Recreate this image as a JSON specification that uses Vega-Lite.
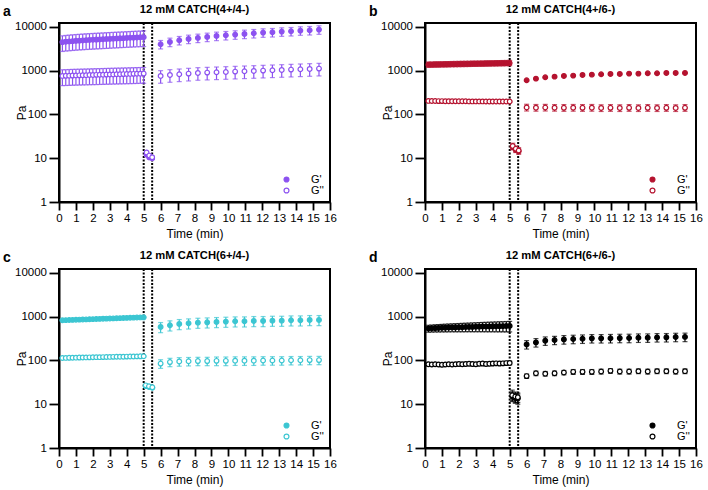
{
"$schema": "https://vega.github.io/schema/vega-lite/v6.json",
"padding": {"left": 2, "top": 2, "right": 5, "bottom": 5},
"background": "white",
"datasets": {
"a": [
{"s":"G'","t":0.2,"v":4500,"lo":2750,"hi":6250},{"s":"G'","t":0.4,"v":4600,"lo":2810,"hi":6390},{"s":"G'","t":0.6,"v":4680,"lo":2850,"hi":6510},{"s":"G'","t":0.8,"v":4750,"lo":2900,"hi":6600},{"s":"G'","t":1.0,"v":4820,"lo":2940,"hi":6700},{"s":"G'","t":1.2,"v":4880,"lo":2980,"hi":6780},{"s":"G'","t":1.4,"v":4940,"lo":3010,"hi":6870},{"s":"G'","t":1.6,"v":5000,"lo":3050,"hi":6950},{"s":"G'","t":1.8,"v":5050,"lo":3080,"hi":7020},{"s":"G'","t":2.0,"v":5100,"lo":3110,"hi":7090},{"s":"G'","t":2.2,"v":5150,"lo":3140,"hi":7160},{"s":"G'","t":2.4,"v":5200,"lo":3170,"hi":7230},{"s":"G'","t":2.6,"v":5250,"lo":3200,"hi":7300},{"s":"G'","t":2.8,"v":5300,"lo":3230,"hi":7370},{"s":"G'","t":3.0,"v":5350,"lo":3260,"hi":7440},{"s":"G'","t":3.2,"v":5400,"lo":3290,"hi":7510},{"s":"G'","t":3.4,"v":5450,"lo":3320,"hi":7580},{"s":"G'","t":3.6,"v":5500,"lo":3360,"hi":7650},{"s":"G'","t":3.8,"v":5550,"lo":3390,"hi":7710},{"s":"G'","t":4.0,"v":5600,"lo":3420,"hi":7780},{"s":"G'","t":4.2,"v":5650,"lo":3450,"hi":7850},{"s":"G'","t":4.4,"v":5700,"lo":3480,"hi":7920},{"s":"G'","t":4.6,"v":5750,"lo":3510,"hi":7990},{"s":"G'","t":4.8,"v":5800,"lo":3540,"hi":8060},{"s":"G'","t":5.0,"v":5850,"lo":3570,"hi":8130},
{"s":"G''","t":0.2,"v":760,"lo":456,"hi":1049},{"s":"G''","t":0.4,"v":765,"lo":459,"hi":1056},{"s":"G''","t":0.6,"v":770,"lo":462,"hi":1063},{"s":"G''","t":0.8,"v":775,"lo":465,"hi":1070},{"s":"G''","t":1.0,"v":780,"lo":468,"hi":1076},{"s":"G''","t":1.2,"v":784,"lo":470,"hi":1082},{"s":"G''","t":1.4,"v":788,"lo":473,"hi":1087},{"s":"G''","t":1.6,"v":792,"lo":475,"hi":1093},{"s":"G''","t":1.8,"v":796,"lo":478,"hi":1098},{"s":"G''","t":2.0,"v":800,"lo":480,"hi":1104},{"s":"G''","t":2.2,"v":804,"lo":482,"hi":1110},{"s":"G''","t":2.4,"v":808,"lo":485,"hi":1115},{"s":"G''","t":2.6,"v":812,"lo":487,"hi":1121},{"s":"G''","t":2.8,"v":816,"lo":490,"hi":1126},{"s":"G''","t":3.0,"v":820,"lo":492,"hi":1132},{"s":"G''","t":3.2,"v":824,"lo":494,"hi":1137},{"s":"G''","t":3.4,"v":828,"lo":497,"hi":1143},{"s":"G''","t":3.6,"v":832,"lo":499,"hi":1148},{"s":"G''","t":3.8,"v":836,"lo":502,"hi":1154},{"s":"G''","t":4.0,"v":840,"lo":504,"hi":1159},{"s":"G''","t":4.2,"v":844,"lo":506,"hi":1165},{"s":"G''","t":4.4,"v":848,"lo":509,"hi":1170},{"s":"G''","t":4.6,"v":852,"lo":511,"hi":1176},{"s":"G''","t":4.8,"v":856,"lo":514,"hi":1181},{"s":"G''","t":5.0,"v":860,"lo":516,"hi":1187},
{"s":"G'","t":5.17,"v":12,"lo":11,"hi":13},{"s":"G'","t":5.33,"v":10.5,"lo":9.7,"hi":11.3},{"s":"G'","t":5.5,"v":10,"lo":9.3,"hi":10.7},
{"s":"G''","t":5.17,"v":13.5,"lo":12.5,"hi":14.5},{"s":"G''","t":5.33,"v":11.5,"lo":10.6,"hi":12.4},{"s":"G''","t":5.5,"v":10.5,"lo":9.6,"hi":11.4},
{"s":"G'","t":6.0,"v":4020,"lo":3140,"hi":4900},{"s":"G'","t":6.55,"v":4540,"lo":3540,"hi":5540},{"s":"G'","t":7.1,"v":4960,"lo":3870,"hi":6050},{"s":"G'","t":7.65,"v":5320,"lo":4150,"hi":6490},{"s":"G'","t":8.2,"v":5610,"lo":4380,"hi":6840},{"s":"G'","t":8.75,"v":5910,"lo":4610,"hi":7210},{"s":"G'","t":9.3,"v":6230,"lo":4860,"hi":7600},{"s":"G'","t":9.85,"v":6450,"lo":5030,"hi":7870},{"s":"G'","t":10.4,"v":6680,"lo":5210,"hi":8150},{"s":"G'","t":10.95,"v":6920,"lo":5400,"hi":8440},{"s":"G'","t":11.5,"v":7160,"lo":5580,"hi":8740},{"s":"G'","t":12.05,"v":7420,"lo":5790,"hi":9050},{"s":"G'","t":12.6,"v":7550,"lo":5890,"hi":9210},{"s":"G'","t":13.15,"v":7820,"lo":6100,"hi":9540},{"s":"G'","t":13.7,"v":7960,"lo":6210,"hi":9710},{"s":"G'","t":14.25,"v":8250,"lo":6440,"hi":10070},{"s":"G'","t":14.8,"v":8390,"lo":6540,"hi":10240},{"s":"G'","t":15.35,"v":8690,"lo":6780,"hi":10600},
{"s":"G''","t":6.0,"v":760,"lo":517,"hi":1003},{"s":"G''","t":6.55,"v":800,"lo":544,"hi":1056},{"s":"G''","t":7.1,"v":828,"lo":563,"hi":1093},{"s":"G''","t":7.65,"v":858,"lo":583,"hi":1133},{"s":"G''","t":8.2,"v":889,"lo":605,"hi":1173},{"s":"G''","t":8.75,"v":904,"lo":615,"hi":1193},{"s":"G''","t":9.3,"v":920,"lo":626,"hi":1214},{"s":"G''","t":9.85,"v":936,"lo":636,"hi":1236},{"s":"G''","t":10.4,"v":953,"lo":648,"hi":1258},{"s":"G''","t":10.95,"v":970,"lo":660,"hi":1280},{"s":"G''","t":11.5,"v":987,"lo":671,"hi":1303},{"s":"G''","t":12.05,"v":1005,"lo":683,"hi":1327},{"s":"G''","t":12.6,"v":1023,"lo":696,"hi":1350},{"s":"G''","t":13.15,"v":1041,"lo":708,"hi":1374},{"s":"G''","t":13.7,"v":1059,"lo":720,"hi":1398},{"s":"G''","t":14.25,"v":1078,"lo":733,"hi":1423},{"s":"G''","t":14.8,"v":1097,"lo":746,"hi":1448},{"s":"G''","t":15.35,"v":1116,"lo":759,"hi":1473}
],
"b": [
{"s":"G'","t":0.2,"v":1375,"lo":1196,"hi":1581},{"s":"G'","t":0.4,"v":1380,"lo":1201,"hi":1587},{"s":"G'","t":0.6,"v":1385,"lo":1205,"hi":1593},{"s":"G'","t":0.8,"v":1390,"lo":1209,"hi":1599},{"s":"G'","t":1.0,"v":1395,"lo":1214,"hi":1604},{"s":"G'","t":1.2,"v":1400,"lo":1218,"hi":1610},{"s":"G'","t":1.4,"v":1405,"lo":1222,"hi":1616},{"s":"G'","t":1.6,"v":1410,"lo":1227,"hi":1622},{"s":"G'","t":1.8,"v":1415,"lo":1231,"hi":1627},{"s":"G'","t":2.0,"v":1420,"lo":1235,"hi":1633},{"s":"G'","t":2.2,"v":1425,"lo":1240,"hi":1639},{"s":"G'","t":2.4,"v":1430,"lo":1244,"hi":1645},{"s":"G'","t":2.6,"v":1435,"lo":1248,"hi":1650},{"s":"G'","t":2.8,"v":1440,"lo":1253,"hi":1656},{"s":"G'","t":3.0,"v":1445,"lo":1257,"hi":1662},{"s":"G'","t":3.2,"v":1450,"lo":1262,"hi":1668},{"s":"G'","t":3.4,"v":1455,"lo":1266,"hi":1673},{"s":"G'","t":3.6,"v":1460,"lo":1270,"hi":1679},{"s":"G'","t":3.8,"v":1465,"lo":1275,"hi":1685},{"s":"G'","t":4.0,"v":1470,"lo":1279,"hi":1691},{"s":"G'","t":4.2,"v":1475,"lo":1283,"hi":1696},{"s":"G'","t":4.4,"v":1480,"lo":1288,"hi":1702},{"s":"G'","t":4.6,"v":1485,"lo":1292,"hi":1708},{"s":"G'","t":4.8,"v":1490,"lo":1296,"hi":1714},{"s":"G'","t":5.0,"v":1495,"lo":1301,"hi":1719},
{"s":"G''","t":0.2,"v":204,"lo":198,"hi":210},{"s":"G''","t":0.4,"v":203,"lo":197,"hi":209},{"s":"G''","t":0.6,"v":203,"lo":197,"hi":209},{"s":"G''","t":0.8,"v":202,"lo":196,"hi":208},{"s":"G''","t":1.0,"v":202,"lo":196,"hi":208},{"s":"G''","t":1.2,"v":201,"lo":195,"hi":207},{"s":"G''","t":1.4,"v":201,"lo":195,"hi":207},{"s":"G''","t":1.6,"v":201,"lo":195,"hi":207},{"s":"G''","t":1.8,"v":200,"lo":194,"hi":206},{"s":"G''","t":2.0,"v":200,"lo":194,"hi":206},{"s":"G''","t":2.2,"v":200,"lo":194,"hi":206},{"s":"G''","t":2.4,"v":200,"lo":194,"hi":206},{"s":"G''","t":2.6,"v":199,"lo":193,"hi":205},{"s":"G''","t":2.8,"v":199,"lo":193,"hi":205},{"s":"G''","t":3.0,"v":199,"lo":193,"hi":205},{"s":"G''","t":3.2,"v":199,"lo":193,"hi":205},{"s":"G''","t":3.4,"v":199,"lo":193,"hi":205},{"s":"G''","t":3.6,"v":198,"lo":192,"hi":204},{"s":"G''","t":3.8,"v":198,"lo":192,"hi":204},{"s":"G''","t":4.0,"v":198,"lo":192,"hi":204},{"s":"G''","t":4.2,"v":198,"lo":192,"hi":204},{"s":"G''","t":4.4,"v":198,"lo":192,"hi":204},{"s":"G''","t":4.6,"v":198,"lo":192,"hi":204},{"s":"G''","t":4.8,"v":198,"lo":192,"hi":204},{"s":"G''","t":5.0,"v":198,"lo":192,"hi":204},
{"s":"G'","t":5.18,"v":18,"lo":15.5,"hi":20.5},{"s":"G'","t":5.36,"v":15.5,"lo":13.5,"hi":17.5},{"s":"G'","t":5.53,"v":14.5,"lo":12.5,"hi":16.5},
{"s":"G''","t":5.18,"v":19,"lo":16,"hi":22},{"s":"G''","t":5.36,"v":16.5,"lo":14,"hi":19},{"s":"G''","t":5.53,"v":15,"lo":12.5,"hi":17.5},
{"s":"G'","t":6.0,"v":604,"lo":586,"hi":622},{"s":"G'","t":6.55,"v":659,"lo":639,"hi":679},{"s":"G'","t":7.1,"v":707,"lo":686,"hi":728},{"s":"G'","t":7.65,"v":732,"lo":710,"hi":754},{"s":"G'","t":8.2,"v":759,"lo":736,"hi":782},{"s":"G'","t":8.75,"v":772,"lo":749,"hi":795},{"s":"G'","t":9.3,"v":800,"lo":776,"hi":824},{"s":"G'","t":9.85,"v":813,"lo":789,"hi":837},{"s":"G'","t":10.4,"v":828,"lo":803,"hi":853},{"s":"G'","t":10.95,"v":843,"lo":818,"hi":868},{"s":"G'","t":11.5,"v":843,"lo":818,"hi":868},{"s":"G'","t":12.05,"v":858,"lo":832,"hi":884},{"s":"G'","t":12.6,"v":858,"lo":832,"hi":884},{"s":"G'","t":13.15,"v":873,"lo":847,"hi":899},{"s":"G'","t":13.7,"v":873,"lo":847,"hi":899},{"s":"G'","t":14.25,"v":889,"lo":862,"hi":916},{"s":"G'","t":14.8,"v":889,"lo":862,"hi":916},{"s":"G'","t":15.35,"v":889,"lo":862,"hi":916},
{"s":"G''","t":6.0,"v":145,"lo":120,"hi":171},{"s":"G''","t":6.55,"v":143,"lo":119,"hi":169},{"s":"G''","t":7.1,"v":144,"lo":120,"hi":170},{"s":"G''","t":7.65,"v":143,"lo":119,"hi":169},{"s":"G''","t":8.2,"v":142,"lo":118,"hi":168},{"s":"G''","t":8.75,"v":143,"lo":119,"hi":169},{"s":"G''","t":9.3,"v":142,"lo":118,"hi":168},{"s":"G''","t":9.85,"v":143,"lo":119,"hi":169},{"s":"G''","t":10.4,"v":141,"lo":117,"hi":166},{"s":"G''","t":10.95,"v":142,"lo":118,"hi":168},{"s":"G''","t":11.5,"v":141,"lo":117,"hi":166},{"s":"G''","t":12.05,"v":142,"lo":118,"hi":168},{"s":"G''","t":12.6,"v":141,"lo":117,"hi":166},{"s":"G''","t":13.15,"v":142,"lo":118,"hi":168},{"s":"G''","t":13.7,"v":141,"lo":117,"hi":166},{"s":"G''","t":14.25,"v":142,"lo":118,"hi":168},{"s":"G''","t":14.8,"v":141,"lo":117,"hi":166},{"s":"G''","t":15.35,"v":142,"lo":118,"hi":168}
],
"c": [
{"s":"G'","t":0.2,"v":830,"lo":813,"hi":847},{"s":"G'","t":0.4,"v":836,"lo":819,"hi":853},{"s":"G'","t":0.6,"v":842,"lo":825,"hi":859},{"s":"G'","t":0.8,"v":848,"lo":831,"hi":865},{"s":"G'","t":1.0,"v":853,"lo":836,"hi":870},{"s":"G'","t":1.2,"v":859,"lo":842,"hi":876},{"s":"G'","t":1.4,"v":865,"lo":848,"hi":882},{"s":"G'","t":1.6,"v":871,"lo":854,"hi":888},{"s":"G'","t":1.8,"v":876,"lo":858,"hi":894},{"s":"G'","t":2.0,"v":882,"lo":864,"hi":900},{"s":"G'","t":2.2,"v":888,"lo":870,"hi":906},{"s":"G'","t":2.4,"v":894,"lo":876,"hi":912},{"s":"G'","t":2.6,"v":900,"lo":882,"hi":918},{"s":"G'","t":2.8,"v":905,"lo":887,"hi":923},{"s":"G'","t":3.0,"v":911,"lo":893,"hi":929},{"s":"G'","t":3.2,"v":917,"lo":899,"hi":935},{"s":"G'","t":3.4,"v":923,"lo":905,"hi":941},{"s":"G'","t":3.6,"v":929,"lo":910,"hi":948},{"s":"G'","t":3.8,"v":934,"lo":915,"hi":953},{"s":"G'","t":4.0,"v":940,"lo":921,"hi":959},{"s":"G'","t":4.2,"v":946,"lo":927,"hi":965},{"s":"G'","t":4.4,"v":952,"lo":933,"hi":971},{"s":"G'","t":4.6,"v":958,"lo":939,"hi":977},{"s":"G'","t":4.8,"v":963,"lo":944,"hi":982},{"s":"G'","t":5.0,"v":969,"lo":950,"hi":988},
{"s":"G''","t":0.2,"v":114,"lo":111,"hi":117},{"s":"G''","t":0.4,"v":114.5,"lo":111.5,"hi":117.5},{"s":"G''","t":0.6,"v":115,"lo":112,"hi":118},{"s":"G''","t":0.8,"v":115.5,"lo":112.5,"hi":118.5},{"s":"G''","t":1.0,"v":116,"lo":113,"hi":119},{"s":"G''","t":1.2,"v":116.5,"lo":113.5,"hi":119.5},{"s":"G''","t":1.4,"v":117,"lo":114,"hi":120},{"s":"G''","t":1.6,"v":117.5,"lo":114.5,"hi":120.5},{"s":"G''","t":1.8,"v":118,"lo":115,"hi":121},{"s":"G''","t":2.0,"v":118.5,"lo":115.5,"hi":121.5},{"s":"G''","t":2.2,"v":119,"lo":116,"hi":122},{"s":"G''","t":2.4,"v":119,"lo":116,"hi":122},{"s":"G''","t":2.6,"v":119.5,"lo":116.5,"hi":122.5},{"s":"G''","t":2.8,"v":120,"lo":117,"hi":123},{"s":"G''","t":3.0,"v":120.5,"lo":117.5,"hi":123.5},{"s":"G''","t":3.2,"v":121,"lo":118,"hi":124},{"s":"G''","t":3.4,"v":121.5,"lo":118.5,"hi":124.5},{"s":"G''","t":3.6,"v":122,"lo":119,"hi":125},{"s":"G''","t":3.8,"v":122,"lo":119,"hi":125},{"s":"G''","t":4.0,"v":122.5,"lo":119.5,"hi":125.5},{"s":"G''","t":4.2,"v":123,"lo":120,"hi":126},{"s":"G''","t":4.4,"v":123.5,"lo":120.5,"hi":126.5},{"s":"G''","t":4.6,"v":124,"lo":121,"hi":127},{"s":"G''","t":4.8,"v":124.5,"lo":121.5,"hi":127.5},{"s":"G''","t":5.0,"v":125,"lo":122,"hi":128},
{"s":"G'","t":5.12,"v":26,"lo":25,"hi":27},{"s":"G'","t":5.31,"v":24.8,"lo":23.8,"hi":25.8},{"s":"G'","t":5.51,"v":23.8,"lo":22.8,"hi":24.8},
{"s":"G''","t":5.12,"v":27,"lo":26,"hi":28},{"s":"G''","t":5.31,"v":25.7,"lo":24.7,"hi":26.7},{"s":"G''","t":5.51,"v":24.4,"lo":23.4,"hi":25.4},
{"s":"G'","t":6.0,"v":583,"lo":431,"hi":735},{"s":"G'","t":6.55,"v":637,"lo":471,"hi":803},{"s":"G'","t":7.1,"v":683,"lo":505,"hi":861},{"s":"G'","t":7.65,"v":707,"lo":523,"hi":891},{"s":"G'","t":8.2,"v":732,"lo":542,"hi":922},{"s":"G'","t":8.75,"v":745,"lo":551,"hi":939},{"s":"G'","t":9.3,"v":759,"lo":562,"hi":956},{"s":"G'","t":9.85,"v":772,"lo":571,"hi":973},{"s":"G'","t":10.4,"v":786,"lo":582,"hi":990},{"s":"G'","t":10.95,"v":786,"lo":582,"hi":990},{"s":"G'","t":11.5,"v":800,"lo":592,"hi":1008},{"s":"G'","t":12.05,"v":800,"lo":592,"hi":1008},{"s":"G'","t":12.6,"v":813,"lo":602,"hi":1024},{"s":"G'","t":13.15,"v":813,"lo":602,"hi":1024},{"s":"G'","t":13.7,"v":828,"lo":613,"hi":1043},{"s":"G'","t":14.25,"v":828,"lo":613,"hi":1043},{"s":"G'","t":14.8,"v":843,"lo":624,"hi":1062},{"s":"G'","t":15.35,"v":843,"lo":624,"hi":1062},
{"s":"G''","t":6.0,"v":85,"lo":66,"hi":104},{"s":"G''","t":6.55,"v":92,"lo":72,"hi":112},{"s":"G''","t":7.1,"v":95,"lo":74,"hi":116},{"s":"G''","t":7.65,"v":96,"lo":75,"hi":117},{"s":"G''","t":8.2,"v":97,"lo":76,"hi":118},{"s":"G''","t":8.75,"v":97,"lo":76,"hi":118},{"s":"G''","t":9.3,"v":98,"lo":76,"hi":120},{"s":"G''","t":9.85,"v":98,"lo":76,"hi":120},{"s":"G''","t":10.4,"v":99,"lo":77,"hi":121},{"s":"G''","t":10.95,"v":99,"lo":77,"hi":121},{"s":"G''","t":11.5,"v":99,"lo":77,"hi":121},{"s":"G''","t":12.05,"v":100,"lo":78,"hi":122},{"s":"G''","t":12.6,"v":100,"lo":78,"hi":122},{"s":"G''","t":13.15,"v":100,"lo":78,"hi":122},{"s":"G''","t":13.7,"v":101,"lo":79,"hi":123},{"s":"G''","t":14.25,"v":101,"lo":79,"hi":123},{"s":"G''","t":14.8,"v":102,"lo":80,"hi":124},{"s":"G''","t":15.35,"v":102,"lo":80,"hi":124}
],
"d": [
{"s":"G'","t":0.2,"v":540,"lo":443,"hi":637},{"s":"G'","t":0.4,"v":545,"lo":445,"hi":645},{"s":"G'","t":0.6,"v":550,"lo":447,"hi":653},{"s":"G'","t":0.8,"v":554,"lo":448,"hi":660},{"s":"G'","t":1.0,"v":558,"lo":449,"hi":667},{"s":"G'","t":1.2,"v":562,"lo":450,"hi":674},{"s":"G'","t":1.4,"v":566,"lo":451,"hi":681},{"s":"G'","t":1.6,"v":569,"lo":452,"hi":686},{"s":"G'","t":1.8,"v":572,"lo":452,"hi":692},{"s":"G'","t":2.0,"v":575,"lo":452,"hi":698},{"s":"G'","t":2.2,"v":578,"lo":452,"hi":704},{"s":"G'","t":2.4,"v":581,"lo":453,"hi":709},{"s":"G'","t":2.6,"v":584,"lo":453,"hi":715},{"s":"G'","t":2.8,"v":587,"lo":453,"hi":721},{"s":"G'","t":3.0,"v":590,"lo":453,"hi":727},{"s":"G'","t":3.2,"v":593,"lo":453,"hi":733},{"s":"G'","t":3.4,"v":596,"lo":453,"hi":739},{"s":"G'","t":3.6,"v":598,"lo":452,"hi":744},{"s":"G'","t":3.8,"v":600,"lo":452,"hi":749},{"s":"G'","t":4.0,"v":603,"lo":452,"hi":754},{"s":"G'","t":4.2,"v":606,"lo":451,"hi":761},{"s":"G'","t":4.4,"v":608,"lo":451,"hi":765},{"s":"G'","t":4.6,"v":610,"lo":450,"hi":770},{"s":"G'","t":4.8,"v":612,"lo":449,"hi":775},{"s":"G'","t":5.0,"v":615,"lo":449,"hi":781},
{"s":"G''","t":0.2,"v":82,"lo":74,"hi":90},{"s":"G''","t":0.4,"v":81,"lo":73,"hi":89},{"s":"G''","t":0.6,"v":82,"lo":74,"hi":90},{"s":"G''","t":0.8,"v":81,"lo":73,"hi":89},{"s":"G''","t":1.0,"v":80,"lo":72,"hi":88},{"s":"G''","t":1.2,"v":81,"lo":73,"hi":89},{"s":"G''","t":1.4,"v":82,"lo":74,"hi":90},{"s":"G''","t":1.6,"v":81,"lo":73,"hi":89},{"s":"G''","t":1.8,"v":82,"lo":74,"hi":90},{"s":"G''","t":2.0,"v":83,"lo":75,"hi":91},{"s":"G''","t":2.2,"v":82,"lo":74,"hi":90},{"s":"G''","t":2.4,"v":83,"lo":75,"hi":91},{"s":"G''","t":2.6,"v":84,"lo":76,"hi":92},{"s":"G''","t":2.8,"v":83,"lo":75,"hi":91},{"s":"G''","t":3.0,"v":82,"lo":74,"hi":90},{"s":"G''","t":3.2,"v":84,"lo":76,"hi":92},{"s":"G''","t":3.4,"v":85,"lo":77,"hi":94},{"s":"G''","t":3.6,"v":83,"lo":75,"hi":91},{"s":"G''","t":3.8,"v":84,"lo":76,"hi":92},{"s":"G''","t":4.0,"v":85,"lo":77,"hi":94},{"s":"G''","t":4.2,"v":86,"lo":77,"hi":95},{"s":"G''","t":4.4,"v":85,"lo":77,"hi":94},{"s":"G''","t":4.6,"v":86,"lo":77,"hi":95},{"s":"G''","t":4.8,"v":87,"lo":78,"hi":96},{"s":"G''","t":5.0,"v":88,"lo":79,"hi":97},
{"s":"G'","t":5.15,"v":15,"lo":11.5,"hi":19},{"s":"G'","t":5.33,"v":14,"lo":10.5,"hi":17.5},{"s":"G'","t":5.48,"v":13.5,"lo":10,"hi":17},
{"s":"G''","t":5.15,"v":16,"lo":12,"hi":21},{"s":"G''","t":5.33,"v":15,"lo":11,"hi":19},{"s":"G''","t":5.48,"v":14.5,"lo":11,"hi":18},
{"s":"G'","t":6.0,"v":233,"lo":182,"hi":284},{"s":"G'","t":6.55,"v":259,"lo":202,"hi":316},{"s":"G'","t":7.1,"v":283,"lo":221,"hi":345},{"s":"G'","t":7.65,"v":293,"lo":229,"hi":357},{"s":"G'","t":8.2,"v":303,"lo":236,"hi":370},{"s":"G'","t":8.75,"v":309,"lo":241,"hi":377},{"s":"G'","t":9.3,"v":314,"lo":245,"hi":383},{"s":"G'","t":9.85,"v":320,"lo":250,"hi":390},{"s":"G'","t":10.4,"v":320,"lo":250,"hi":390},{"s":"G'","t":10.95,"v":322,"lo":251,"hi":393},{"s":"G'","t":11.5,"v":325,"lo":254,"hi":397},{"s":"G'","t":12.05,"v":326,"lo":254,"hi":398},{"s":"G'","t":12.6,"v":331,"lo":258,"hi":404},{"s":"G'","t":13.15,"v":332,"lo":259,"hi":405},{"s":"G'","t":13.7,"v":337,"lo":263,"hi":411},{"s":"G'","t":14.25,"v":338,"lo":264,"hi":412},{"s":"G'","t":14.8,"v":343,"lo":268,"hi":418},{"s":"G'","t":15.35,"v":345,"lo":269,"hi":421},
{"s":"G''","t":6.0,"v":44,"lo":39,"hi":49},{"s":"G''","t":6.55,"v":51,"lo":45,"hi":57},{"s":"G''","t":7.1,"v":50,"lo":44,"hi":56},{"s":"G''","t":7.65,"v":51,"lo":45,"hi":57},{"s":"G''","t":8.2,"v":53,"lo":47,"hi":59},{"s":"G''","t":8.75,"v":55,"lo":48,"hi":62},{"s":"G''","t":9.3,"v":55,"lo":48,"hi":62},{"s":"G''","t":9.85,"v":55,"lo":48,"hi":62},{"s":"G''","t":10.4,"v":56,"lo":49,"hi":63},{"s":"G''","t":10.95,"v":58,"lo":51,"hi":65},{"s":"G''","t":11.5,"v":56,"lo":49,"hi":63},{"s":"G''","t":12.05,"v":56,"lo":49,"hi":63},{"s":"G''","t":12.6,"v":57,"lo":50,"hi":64},{"s":"G''","t":13.15,"v":56,"lo":49,"hi":63},{"s":"G''","t":13.7,"v":57,"lo":50,"hi":64},{"s":"G''","t":14.25,"v":57,"lo":50,"hi":64},{"s":"G''","t":14.8,"v":56,"lo":49,"hi":63},{"s":"G''","t":15.35,"v":57,"lo":50,"hi":64}
]
},
"columns": 2,
"spacing": {"row": 7, "column": 30},
"resolve": {"scale": {"fill": "independent"}, "legend": {"fill": "independent"}},
"concat": [
{"title": {"text": "12 mM CATCH(4+/4-)", "offset": -10}, "width": 271, "height": 179, "data": {"name": "a"},
 "layer": [
  {"data": {"values": [{"t": 5}, {"t": 5.5}]}, "mark": {"type": "rule", "color": "black", "strokeWidth": 2, "strokeDash": [2, 1.5]},
   "encoding": {"x": {"field": "t", "type": "quantitative", "title": "Time (min)", "scale": {"domain": [0, 16], "nice": false, "zero": false}, "axis": {"values": [0,1,2,3,4,5,6,7,8,9,10,11,12,13,14,15,16], "labelFlush": false, "labelOverlap": false, "titlePadding": 5}}}},
  {"mark": {"type": "errorbar", "ticks": true, "size": 5, "thickness": 1.2, "color": "#8c52f0"},
   "encoding": {"x": {"field": "t", "type": "quantitative", "title": "Time (min)", "scale": {"domain": [0, 16], "nice": false, "zero": false}, "axis": {"values": [0,1,2,3,4,5,6,7,8,9,10,11,12,13,14,15,16], "labelFlush": false, "labelOverlap": false, "titlePadding": 5}},
    "y": {"field": "lo", "type": "quantitative", "title": "Pa", "scale": {"type": "log", "domain": [1, 12300], "nice": false}, "axis": {"values": [1, 10, 100, 1000, 10000], "format": "d", "labelOverlap": false, "tickSize": 10, "labelPadding": 2.5, "titlePadding": -14}}, "y2": {"field": "hi"}}},
  {"mark": {"type": "point", "shape": "circle", "filled": true, "size": 22, "stroke": "#8c52f0", "strokeWidth": 1.2, "opacity": 1},
   "encoding": {"x": {"field": "t", "type": "quantitative", "title": "Time (min)", "scale": {"domain": [0, 16], "nice": false, "zero": false}, "axis": {"values": [0,1,2,3,4,5,6,7,8,9,10,11,12,13,14,15,16], "labelFlush": false, "labelOverlap": false, "titlePadding": 5}},
    "y": {"field": "v", "type": "quantitative", "title": "Pa", "scale": {"type": "log", "domain": [1, 12300], "nice": false}, "axis": {"values": [1, 10, 100, 1000, 10000], "format": "d", "labelOverlap": false, "tickSize": 10, "labelPadding": 2.5, "titlePadding": -14}},
    "fill": {"field": "s", "type": "nominal", "scale": {"domain": ["G'", "G''"], "range": ["#8c52f0", "white"]}, "legend": {"title": null, "orient": "bottom-right", "offset": 6, "padding": 0, "labelFontSize": 11, "labelOffset": 19, "symbolSize": 24, "symbolStrokeColor": "#8c52f0", "symbolStrokeWidth": 1.2, "symbolType": "circle", "rowPadding": -1.5, "labelColor": "black"}}}},
  {"data": {"values": [{"L": "a"}]}, "mark": {"type": "text", "fontSize": 14, "fontWeight": "bold", "align": "left", "baseline": "alphabetic", "color": "black"},
   "encoding": {"x": {"datum": -3.3, "type": "quantitative", "title": "Time (min)", "scale": {"domain": [0, 16], "nice": false, "zero": false}, "axis": {"values": [0,1,2,3,4,5,6,7,8,9,10,11,12,13,14,15,16], "labelFlush": false, "labelOverlap": false, "titlePadding": 5}},
    "y": {"datum": 17790, "type": "quantitative", "title": "Pa", "scale": {"type": "log", "domain": [1, 12300], "nice": false}, "axis": {"values": [1, 10, 100, 1000, 10000], "format": "d", "labelOverlap": false, "tickSize": 10, "labelPadding": 2.5, "titlePadding": -14}}, "text": {"field": "L"}}}
 ]},
{"title": {"text": "12 mM CATCH(4+/6-)", "offset": -10}, "width": 271, "height": 179, "data": {"name": "b"},
 "layer": [
  {"data": {"values": [{"t": 5}, {"t": 5.5}]}, "mark": {"type": "rule", "color": "black", "strokeWidth": 2, "strokeDash": [2, 1.5]},
   "encoding": {"x": {"field": "t", "type": "quantitative", "title": "Time (min)", "scale": {"domain": [0, 16], "nice": false, "zero": false}, "axis": {"values": [0,1,2,3,4,5,6,7,8,9,10,11,12,13,14,15,16], "labelFlush": false, "labelOverlap": false, "titlePadding": 5}}}},
  {"mark": {"type": "errorbar", "ticks": true, "size": 5, "thickness": 1.2, "color": "#b5132f"},
   "encoding": {"x": {"field": "t", "type": "quantitative", "title": "Time (min)", "scale": {"domain": [0, 16], "nice": false, "zero": false}, "axis": {"values": [0,1,2,3,4,5,6,7,8,9,10,11,12,13,14,15,16], "labelFlush": false, "labelOverlap": false, "titlePadding": 5}},
    "y": {"field": "lo", "type": "quantitative", "title": "Pa", "scale": {"type": "log", "domain": [1, 12300], "nice": false}, "axis": {"values": [1, 10, 100, 1000, 10000], "format": "d", "labelOverlap": false, "tickSize": 10, "labelPadding": 2.5, "titlePadding": -14}}, "y2": {"field": "hi"}}},
  {"mark": {"type": "point", "shape": "circle", "filled": true, "size": 22, "stroke": "#b5132f", "strokeWidth": 1.2, "opacity": 1},
   "encoding": {"x": {"field": "t", "type": "quantitative", "title": "Time (min)", "scale": {"domain": [0, 16], "nice": false, "zero": false}, "axis": {"values": [0,1,2,3,4,5,6,7,8,9,10,11,12,13,14,15,16], "labelFlush": false, "labelOverlap": false, "titlePadding": 5}},
    "y": {"field": "v", "type": "quantitative", "title": "Pa", "scale": {"type": "log", "domain": [1, 12300], "nice": false}, "axis": {"values": [1, 10, 100, 1000, 10000], "format": "d", "labelOverlap": false, "tickSize": 10, "labelPadding": 2.5, "titlePadding": -14}},
    "fill": {"field": "s", "type": "nominal", "scale": {"domain": ["G'", "G''"], "range": ["#b5132f", "white"]}, "legend": {"title": null, "orient": "bottom-right", "offset": 6, "padding": 0, "labelFontSize": 11, "labelOffset": 19, "symbolSize": 24, "symbolStrokeColor": "#b5132f", "symbolStrokeWidth": 1.2, "symbolType": "circle", "rowPadding": -1.5, "labelColor": "black"}}}},
  {"data": {"values": [{"L": "b"}]}, "mark": {"type": "text", "fontSize": 14, "fontWeight": "bold", "align": "left", "baseline": "alphabetic", "color": "black"},
   "encoding": {"x": {"datum": -3.3, "type": "quantitative", "title": "Time (min)", "scale": {"domain": [0, 16], "nice": false, "zero": false}, "axis": {"values": [0,1,2,3,4,5,6,7,8,9,10,11,12,13,14,15,16], "labelFlush": false, "labelOverlap": false, "titlePadding": 5}},
    "y": {"datum": 17790, "type": "quantitative", "title": "Pa", "scale": {"type": "log", "domain": [1, 12300], "nice": false}, "axis": {"values": [1, 10, 100, 1000, 10000], "format": "d", "labelOverlap": false, "tickSize": 10, "labelPadding": 2.5, "titlePadding": -14}}, "text": {"field": "L"}}}
 ]},
{"title": {"text": "12 mM CATCH(6+/4-)", "offset": -10}, "width": 271, "height": 179, "data": {"name": "c"},
 "layer": [
  {"data": {"values": [{"t": 5}, {"t": 5.5}]}, "mark": {"type": "rule", "color": "black", "strokeWidth": 2, "strokeDash": [2, 1.5]},
   "encoding": {"x": {"field": "t", "type": "quantitative", "title": "Time (min)", "scale": {"domain": [0, 16], "nice": false, "zero": false}, "axis": {"values": [0,1,2,3,4,5,6,7,8,9,10,11,12,13,14,15,16], "labelFlush": false, "labelOverlap": false, "titlePadding": 5}}}},
  {"mark": {"type": "errorbar", "ticks": true, "size": 5, "thickness": 1.2, "color": "#3cc6d2"},
   "encoding": {"x": {"field": "t", "type": "quantitative", "title": "Time (min)", "scale": {"domain": [0, 16], "nice": false, "zero": false}, "axis": {"values": [0,1,2,3,4,5,6,7,8,9,10,11,12,13,14,15,16], "labelFlush": false, "labelOverlap": false, "titlePadding": 5}},
    "y": {"field": "lo", "type": "quantitative", "title": "Pa", "scale": {"type": "log", "domain": [1, 12300], "nice": false}, "axis": {"values": [1, 10, 100, 1000, 10000], "format": "d", "labelOverlap": false, "tickSize": 10, "labelPadding": 2.5, "titlePadding": -14}}, "y2": {"field": "hi"}}},
  {"mark": {"type": "point", "shape": "circle", "filled": true, "size": 22, "stroke": "#3cc6d2", "strokeWidth": 1.2, "opacity": 1},
   "encoding": {"x": {"field": "t", "type": "quantitative", "title": "Time (min)", "scale": {"domain": [0, 16], "nice": false, "zero": false}, "axis": {"values": [0,1,2,3,4,5,6,7,8,9,10,11,12,13,14,15,16], "labelFlush": false, "labelOverlap": false, "titlePadding": 5}},
    "y": {"field": "v", "type": "quantitative", "title": "Pa", "scale": {"type": "log", "domain": [1, 12300], "nice": false}, "axis": {"values": [1, 10, 100, 1000, 10000], "format": "d", "labelOverlap": false, "tickSize": 10, "labelPadding": 2.5, "titlePadding": -14}},
    "fill": {"field": "s", "type": "nominal", "scale": {"domain": ["G'", "G''"], "range": ["#3cc6d2", "white"]}, "legend": {"title": null, "orient": "bottom-right", "offset": 6, "padding": 0, "labelFontSize": 11, "labelOffset": 19, "symbolSize": 24, "symbolStrokeColor": "#3cc6d2", "symbolStrokeWidth": 1.2, "symbolType": "circle", "rowPadding": -1.5, "labelColor": "black"}}}},
  {"data": {"values": [{"L": "c"}]}, "mark": {"type": "text", "fontSize": 14, "fontWeight": "bold", "align": "left", "baseline": "alphabetic", "color": "black"},
   "encoding": {"x": {"datum": -3.3, "type": "quantitative", "title": "Time (min)", "scale": {"domain": [0, 16], "nice": false, "zero": false}, "axis": {"values": [0,1,2,3,4,5,6,7,8,9,10,11,12,13,14,15,16], "labelFlush": false, "labelOverlap": false, "titlePadding": 5}},
    "y": {"datum": 17790, "type": "quantitative", "title": "Pa", "scale": {"type": "log", "domain": [1, 12300], "nice": false}, "axis": {"values": [1, 10, 100, 1000, 10000], "format": "d", "labelOverlap": false, "tickSize": 10, "labelPadding": 2.5, "titlePadding": -14}}, "text": {"field": "L"}}}
 ]},
{"title": {"text": "12 mM CATCH(6+/6-)", "offset": -10}, "width": 271, "height": 179, "data": {"name": "d"},
 "layer": [
  {"data": {"values": [{"t": 5}, {"t": 5.5}]}, "mark": {"type": "rule", "color": "black", "strokeWidth": 2, "strokeDash": [2, 1.5]},
   "encoding": {"x": {"field": "t", "type": "quantitative", "title": "Time (min)", "scale": {"domain": [0, 16], "nice": false, "zero": false}, "axis": {"values": [0,1,2,3,4,5,6,7,8,9,10,11,12,13,14,15,16], "labelFlush": false, "labelOverlap": false, "titlePadding": 5}}}},
  {"mark": {"type": "errorbar", "ticks": true, "size": 5, "thickness": 1.2, "color": "#000000"},
   "encoding": {"x": {"field": "t", "type": "quantitative", "title": "Time (min)", "scale": {"domain": [0, 16], "nice": false, "zero": false}, "axis": {"values": [0,1,2,3,4,5,6,7,8,9,10,11,12,13,14,15,16], "labelFlush": false, "labelOverlap": false, "titlePadding": 5}},
    "y": {"field": "lo", "type": "quantitative", "title": "Pa", "scale": {"type": "log", "domain": [1, 12300], "nice": false}, "axis": {"values": [1, 10, 100, 1000, 10000], "format": "d", "labelOverlap": false, "tickSize": 10, "labelPadding": 2.5, "titlePadding": -14}}, "y2": {"field": "hi"}}},
  {"mark": {"type": "point", "shape": "circle", "filled": true, "size": 22, "stroke": "#000000", "strokeWidth": 1.2, "opacity": 1},
   "encoding": {"x": {"field": "t", "type": "quantitative", "title": "Time (min)", "scale": {"domain": [0, 16], "nice": false, "zero": false}, "axis": {"values": [0,1,2,3,4,5,6,7,8,9,10,11,12,13,14,15,16], "labelFlush": false, "labelOverlap": false, "titlePadding": 5}},
    "y": {"field": "v", "type": "quantitative", "title": "Pa", "scale": {"type": "log", "domain": [1, 12300], "nice": false}, "axis": {"values": [1, 10, 100, 1000, 10000], "format": "d", "labelOverlap": false, "tickSize": 10, "labelPadding": 2.5, "titlePadding": -14}},
    "fill": {"field": "s", "type": "nominal", "scale": {"domain": ["G'", "G''"], "range": ["#000000", "white"]}, "legend": {"title": null, "orient": "bottom-right", "offset": 6, "padding": 0, "labelFontSize": 11, "labelOffset": 19, "symbolSize": 24, "symbolStrokeColor": "#000000", "symbolStrokeWidth": 1.2, "symbolType": "circle", "rowPadding": -1.5, "labelColor": "black"}}}},
  {"data": {"values": [{"L": "d"}]}, "mark": {"type": "text", "fontSize": 14, "fontWeight": "bold", "align": "left", "baseline": "alphabetic", "color": "black"},
   "encoding": {"x": {"datum": -3.3, "type": "quantitative", "title": "Time (min)", "scale": {"domain": [0, 16], "nice": false, "zero": false}, "axis": {"values": [0,1,2,3,4,5,6,7,8,9,10,11,12,13,14,15,16], "labelFlush": false, "labelOverlap": false, "titlePadding": 5}},
    "y": {"datum": 17790, "type": "quantitative", "title": "Pa", "scale": {"type": "log", "domain": [1, 12300], "nice": false}, "axis": {"values": [1, 10, 100, 1000, 10000], "format": "d", "labelOverlap": false, "tickSize": 10, "labelPadding": 2.5, "titlePadding": -14}}, "text": {"field": "L"}}}
 ]}
],
"config": {
 "font": "Liberation Sans",
 "view": {"stroke": "black", "strokeWidth": 2},
 "axis": {"domainColor": "black", "domainWidth": 2, "tickColor": "black", "tickWidth": 1.8, "tickSize": 8, "labelColor": "black", "labelFontSize": 11.5, "labelPadding": 2, "titleColor": "black", "titleFontSize": 12, "titleFontWeight": "normal", "grid": false, "labelFont": "Liberation Sans", "titleFont": "Liberation Sans"},
 "title": {"fontSize": 11.2, "fontWeight": "bold", "color": "black", "font": "Liberation Sans"},
 "legend": {"labelFont": "Liberation Sans"}
}
}
